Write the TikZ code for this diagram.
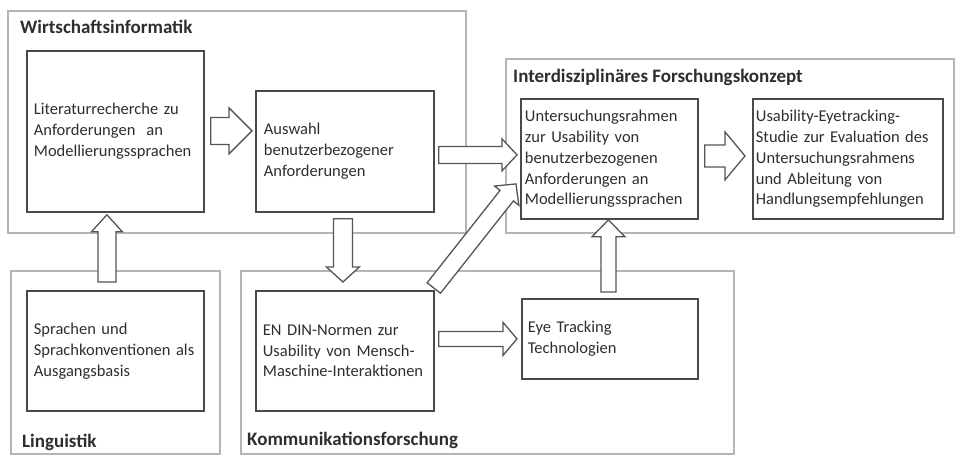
\documentclass[tikz,border=0pt]{standalone}
\usepackage{fontspec}
\setmainfont{Carlito}
\usetikzlibrary{calc}
\hyphenpenalty=10000
\exhyphenpenalty=10000

\definecolor{panelc}{HTML}{B5B5B5}
\definecolor{boxc}{HTML}{4A4A4A}
\definecolor{arrowc}{HTML}{555555}
\definecolor{txt}{HTML}{2E2E2E}

\tikzset{
  panel/.style={draw=panelc, line width=2pt, anchor=north west, inner sep=0pt},
  stagebox/.style={draw=boxc, line width=1.8pt, fill=white, anchor=north west,
    align=left, text=txt, font=\fontsize{16.5}{20.8}\selectfont, inner ysep=0pt},
  paneltitle/.style={anchor=base west, text=txt, inner sep=0pt,
    font=\bfseries\fontsize{19}{22}\selectfont},
  blockarrow/.style={draw=arrowc, line width=1.3pt, fill=white, line join=miter},
}

% hollow block arrow: tail, tip, half shaft width, half head width, head length
\newcommand\hollowarrow[5]{%
  \coordinate (hb) at ($(#2)!#5!(#1)$);
  \draw[blockarrow] ($(#1)!#3!90:(#2)$) -- ($(hb)!#3!90:(#2)$)
    -- ($(hb)!#4!90:(#2)$) -- (#2) -- ($(hb)!#4!-90:(#2)$)
    -- ($(hb)!#3!-90:(#2)$) -- ($(#1)!#3!-90:(#2)$) -- cycle;}

\begin{document}
\begin{tikzpicture}[x=1pt, y=-1pt]
\useasboundingbox (0,0) rectangle (957,455);
\fill[white] (0,0) rectangle (957,455);

% discipline panels
\node[panel, minimum width=458pt, minimum height=222pt] (wi)  at (7,10) {};
\node[panel, minimum width=448pt, minimum height=174pt] (ifk) at (505,58) {};
\node[panel, minimum width=209pt, minimum height=183pt] (lin) at (10,270) {};
\node[panel, minimum width=493pt, minimum height=183pt] (kom) at (240,270) {};

\node[paneltitle] (wi-t)  at (20,33)   {Wirtschaftsinformatik};
\node[paneltitle] (ifk-t) at (513,82)  {Interdisziplinäres Forschungskonzept};
\node[paneltitle] (lin-t) at (22,447)  {Linguistik};
\node[paneltitle] (kom-t) at (247,445) {Kommunikationsforschung};

% work packages
\node[stagebox, minimum width=177pt, minimum height=161pt, inner xsep=7pt, text width=163pt]
  (lit) at (26,50) {Literaturrecherche zu\\Anforderungen \ an\\Modellierungssprachen};
\node[stagebox, minimum width=178pt, minimum height=121pt, inner xsep=8pt, text width=162pt]
  (aus) at (255,90) {Auswahl\\benutzerbezogener\\Anforderungen};
\node[stagebox, minimum width=177pt, minimum height=120pt, inner xsep=4pt, text width=169pt]
  (unt) at (520,98) {Untersuchungsrahmen\\zur Usability von\\benutzerbezogenen\\Anforderungen an\\Modellierungssprachen};
\node[stagebox, minimum width=190pt, minimum height=120pt, inner xsep=3pt, text width=184pt]
  (use) at (752,98) {Usability-Eyetracking-\\Studie zur Evaluation des\\Untersuchungsrahmens\\und Ableitung von\\Handlungsempfehlungen};
\node[stagebox, minimum width=177pt, minimum height=120pt, inner xsep=7pt, text width=163pt]
  (spr) at (26,290) {Sprachen und\\Sprachkonventionen als\\Ausgangsbasis};
\node[stagebox, minimum width=178pt, minimum height=120pt, inner xsep=7pt, text width=164pt]
  (din) at (255,290) {EN DIN-Normen zur\\Usability von Mensch-\\Maschine-Interaktionen};
\node[stagebox, minimum width=176pt, minimum height=80pt, inner xsep=6pt, text width=164pt]
  (eye) at (521,298) {Eye Tracking\\Technologien};

% arrow end points
\coordinate (a1s) at ($(lit.east)+(6,-0.5)$);
\coordinate (a1e) at ($(aus.west)+(-3,-20.5)$);
\coordinate (a2s) at ($(aus.east)+(4,3.5)$);
\coordinate (a2e) at ($(unt.west)+(-3,-4)$);
\coordinate (a3s) at ($(unt.east)+(6,-3)$);
\coordinate (a3e) at ($(use.west)+(-7,-3)$);
\coordinate (a4s) at ($(spr.north)+(-8.5,-8)$);
\coordinate (a4e) at ($(lit.south)+(-8.5,2)$);
\coordinate (a5s) at ($(aus.south)+(-2,6)$);
\coordinate (a5e) at ($(din.north)+(-2,-8)$);
\coordinate (a6s) at ($(din.east)+(4,-12)$);
\coordinate (a6e) at ($(eye.west)+(-4,0)$);
\coordinate (a7s) at ($(eye.north)+(-1.5,-6)$);
\coordinate (a7e) at ($(unt.south)+(-1,0)$);
\coordinate (a8s) at ($(din.north east)+(-1,-2)$);
\coordinate (a8e) at ($(unt.west)+(-4,25)$);

% flow arrows
\hollowarrow{a1s}{a1e}{13.5pt}{23pt}{23pt}
\hollowarrow{a2s}{a2e}{8.5pt}{16pt}{15pt}
\hollowarrow{a3s}{a3e}{11pt}{24pt}{20pt}
\hollowarrow{a4s}{a4e}{9pt}{15.5pt}{17pt}
\hollowarrow{a5s}{a5e}{9.5pt}{16.5pt}{15pt}
\hollowarrow{a6s}{a6e}{7.5pt}{16.5pt}{14pt}
\hollowarrow{a7s}{a7e}{7.5pt}{16.5pt}{17pt}
\hollowarrow{a8s}{a8e}{8.5pt}{15.5pt}{15pt}
\end{tikzpicture}
\end{document}
